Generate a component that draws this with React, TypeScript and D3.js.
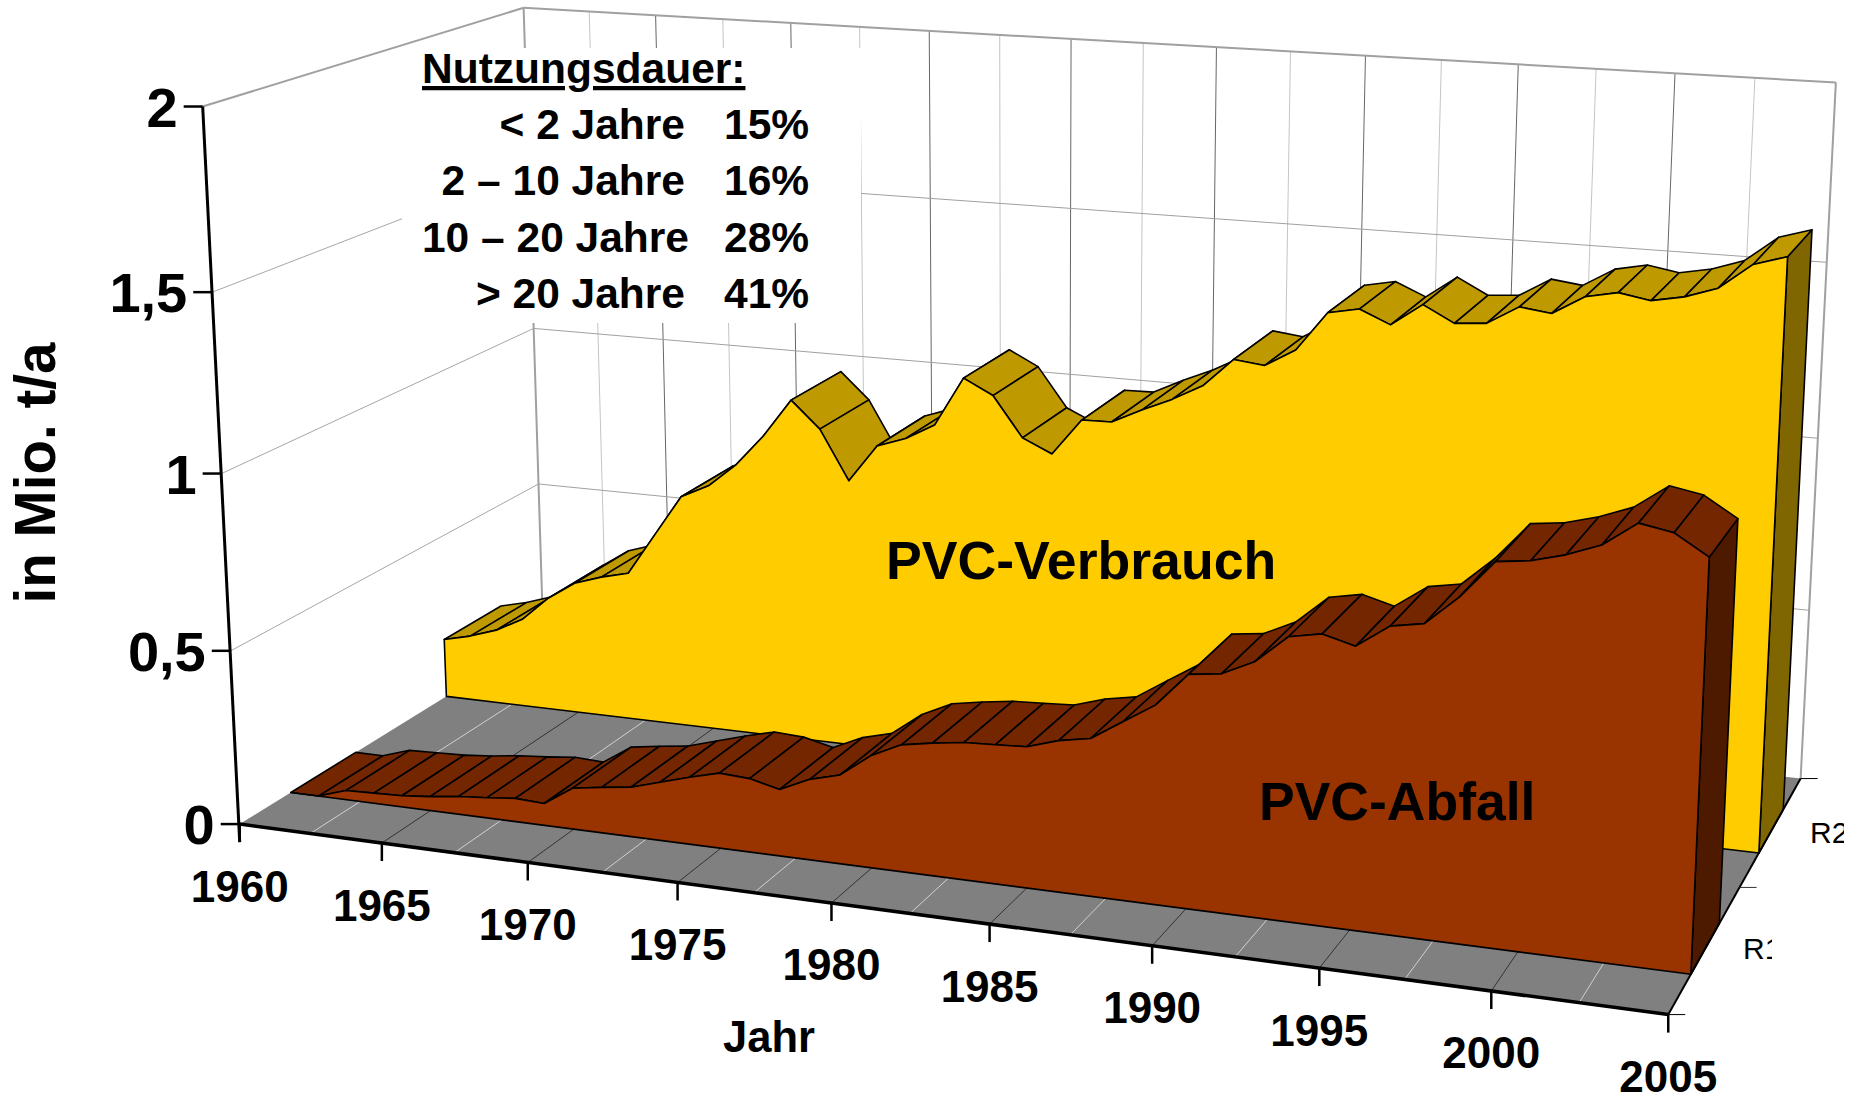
import React, { useEffect, useRef } from "react";
import * as d3 from "d3";

const years = d3.range(1960, 2006);

const verbrauch = [
  0.18, 0.2, 0.228, 0.271, 0.346, 0.401, 0.429, 0.45, 0.575, 0.7, 0.741, 0.812,
  0.906, 1.02, 0.942, 0.797, 0.908, 0.938, 0.985, 1.129, 1.086, 0.971, 0.932, 1.038,
  1.04, 1.082, 1.12, 1.166, 1.248, 1.238, 1.289, 1.4, 1.417, 1.38, 1.443, 1.398,
  1.405, 1.457, 1.446, 1.498, 1.516, 1.501, 1.518, 1.548, 1.618, 1.645,
];

const abfall = [
  0, 0, 0.027, 0.03, 0.033, 0.041, 0.052, 0.059, 0.068, 0.064, 0.119, 0.132,
  0.143, 0.168, 0.193, 0.215, 0.21, 0.19, 0.229, 0.252, 0.316, 0.357, 0.372, 0.384,
  0.388, 0.393, 0.42, 0.436, 0.492, 0.547, 0.64, 0.651, 0.693, 0.769, 0.786, 0.763,
  0.825, 0.841, 0.92, 1.02, 1.031, 1.055, 1.089, 1.153, 1.137, 1.084,
];

const valueTicks = [0, 0.5, 1, 1.5, 2];
const valueLabels = ["0", "0,5", "1", "1,5", "2"];
const yearTicks = d3.range(1960, 2006, 5);
const gridYears = d3.range(1960, 2006, 2.5);

const legendLabels = ["< 2 Jahre", "2 – 10 Jahre", "10 – 20 Jahre", "> 20 Jahre"];
const legendShares = ["15%", "16%", "28%", "41%"];

// perspective camera fitted to the reference: year, depth, value -> screen
const cam = [
  1234.93923, 384.19453, -46.15237, 239.72154,
  72.7663, -93.11549, -722.35146, 824.08083,
  -0.11605, 0.14839, -0.04495,
];

const yearScale = d3.scaleLinear().domain([1960, 2005]).range([0, 1]);
const valueScale = d3.scaleLinear().domain([0, 2]).range([0, 1]);

const project = (year: number, depth: number, value: number): [number, number] => {
  const u = yearScale(year);
  const w = valueScale(value);
  const d = cam[8] * u + cam[9] * depth + cam[10] * w + 1;
  return [
    (cam[0] * u + cam[1] * depth + cam[2] * w + cam[3]) / d,
    (cam[4] * u + cam[5] * depth + cam[6] * w + cam[7]) / d,
  ];
};

const seriesList = [
  { values: verbrauch, front: 0.65, back: 0.85, face: "#FFCC00", top: "#BF9900", side: "#806600" },
  { values: abfall, front: 0.15, back: 0.35, face: "#993300", top: "#732600", side: "#4D1A00" },
];

const App = () => {
  const svgRef = useRef<SVGSVGElement>(null);

  useEffect(() => {
    const svg = d3.select(svgRef.current);
    svg.selectAll("*").remove();
    svg.style("font-family", "'Liberation Sans', Arial, sans-serif");

    const closed = d3.line();
    const poly = (pts: [number, number][]) => closed(pts) + "Z";
    const seg = (a: [number, number], b: [number, number], color: string, width: number) =>
      svg
        .append("line")
        .attr("x1", a[0])
        .attr("y1", a[1])
        .attr("x2", b[0])
        .attr("y2", b[1])
        .attr("stroke", color)
        .attr("stroke-width", width);

    // walls
    gridYears.forEach((y) => {
      const edge = y === 1960 || y === 2005;
      seg(project(y, 1, 0), project(y, 1, 2), edge ? "#a0a0a0" : y % 5 === 0 ? "#666" : "#c4c4c4", edge ? 2 : 1);
    });
    valueTicks.slice(1, -1).forEach((v) => {
      seg(project(1960, 0, v), project(1960, 1, v), "#a6a6a6", 1);
      seg(project(1960, 1, v), project(2005, 1, v), "#a0a0a0", 1);
    });
    seg(project(1960, 0, 2), project(1960, 1, 2), "#a0a0a0", 2);
    seg(project(1960, 1, 2), project(2005, 1, 2), "#a0a0a0", 2);

    // floor
    svg
      .append("path")
      .attr("d", poly([project(1960, 0, 0), project(2005, 0, 0), project(2005, 1, 0), project(1960, 1, 0)]))
      .attr("fill", "#808080");
    gridYears.slice(1, -1).forEach((y) => {
      seg(project(y, 0, 0), project(y, 1, 0), y % 5 === 0 ? "#333" : "#d0d0d0", 1);
    });

    // legend block, it hides the grid behind it
    svg.append("rect").attr("x", 402).attr("y", 48).attr("width", 459).attr("height", 275).attr("fill", "#fff");
    svg
      .append("text")
      .attr("x", 422)
      .attr("y", 83)
      .attr("font-size", 42.5)
      .attr("font-weight", "bold")
      .attr("text-decoration", "underline")
      .text("Nutzungsdauer:");
    legendLabels.forEach((label, i) => {
      const y = 138.5 + i * 56.5;
      svg
        .append("text")
        .attr("x", i === 2 ? 689 : 685)
        .attr("y", y)
        .attr("text-anchor", "end")
        .attr("font-size", 42.5)
        .attr("font-weight", "bold")
        .text(label);
      svg
        .append("text")
        .attr("x", 724)
        .attr("y", y)
        .attr("font-size", 42.5)
        .attr("font-weight", "bold")
        .text(legendShares[i]);
    });

    // areas, back series first, top facets from far to near
    seriesList.forEach((s) => {
      const last = years.length - 1;
      const g = svg
        .append("g")
        .attr("stroke", "#000")
        .attr("stroke-width", 1.6)
        .attr("stroke-linejoin", "round");

      g.append("path")
        .attr(
          "d",
          poly([
            project(years[last], s.front, s.values[last]),
            project(years[last], s.back, s.values[last]),
            project(years[last], s.back, 0),
            project(years[last], s.front, 0),
          ])
        )
        .attr("fill", s.side);

      g.selectAll("path.top")
        .data(d3.pairs(d3.range(years.length)))
        .join("path")
        .attr("class", "top")
        .attr("fill", s.top)
        .attr("d", ([a, b]) =>
          poly([
            project(years[a], s.front, s.values[a]),
            project(years[b], s.front, s.values[b]),
            project(years[b], s.back, s.values[b]),
            project(years[a], s.back, s.values[a]),
          ])
        );

      g.append("path")
        .attr(
          "d",
          poly([
            ...years.map((y, i) => project(y, s.front, s.values[i])),
            project(years[last], s.front, 0),
            project(years[0], s.front, 0),
          ])
        )
        .attr("fill", s.face);
    });

    // series labels
    svg
      .append("text")
      .attr("x", 886)
      .attr("y", 579)
      .attr("font-size", 53.6)
      .attr("font-weight", "bold")
      .text("PVC-Verbrauch");
    svg
      .append("text")
      .attr("x", 1259)
      .attr("y", 820)
      .attr("font-size", 53.5)
      .attr("font-weight", "bold")
      .text("PVC-Abfall");

    // value axis
    seg(project(1960, 0, 2), [project(1960, 0, 0)[0], project(1960, 0, 0)[1] + 18], "#000", 3);
    valueTicks.forEach((v, i) => {
      const [x, y] = project(1960, 0, v);
      seg([x - 19, y], [x, y], "#000", 2.5);
      svg
        .append("text")
        .attr("x", x - 25)
        .attr("y", y + 20)
        .attr("text-anchor", "end")
        .attr("font-size", 56)
        .attr("font-weight", "bold")
        .text(valueLabels[i]);
    });

    // year axis
    seg(project(1960, 0, 0), project(2005, 0, 0), "#000", 3.5);
    yearTicks.forEach((yr) => {
      const [x, y] = project(yr, 0, 0);
      seg([x, y], [x, y + 18], "#000", 2.5);
      svg
        .append("text")
        .attr("x", x)
        .attr("y", y + 77.5)
        .attr("text-anchor", "middle")
        .attr("font-size", 44)
        .attr("font-weight", "bold")
        .text(String(yr));
    });

    // depth axis
    seg(project(2005, 0, 0), project(2005, 1, 0), "#000", 2);
    [0, 0.5, 1].forEach((d) => {
      const [x, y] = project(2005, d, 0);
      seg([x, y], [x + 17, y], d === 0.5 ? "#333" : "#000", 1);
    });

    const defs = svg.append("defs");
    defs.append("clipPath").attr("id", "clip-r1").append("rect").attr("x", 1700).attr("y", 900).attr("width", 72).attr("height", 100);
    defs.append("clipPath").attr("id", "clip-r2").append("rect").attr("x", 1780).attr("y", 790).attr("width", 64).attr("height", 80);
    svg
      .append("text")
      .attr("x", 1743)
      .attr("y", 959)
      .attr("font-size", 30)
      .attr("clip-path", "url(#clip-r1)")
      .text("R1");
    svg
      .append("text")
      .attr("x", 1810)
      .attr("y", 843)
      .attr("font-size", 30)
      .attr("clip-path", "url(#clip-r2)")
      .text("R2");

    // axis titles
    svg
      .append("text")
      .attr("x", 769)
      .attr("y", 1052)
      .attr("text-anchor", "middle")
      .attr("font-size", 43.5)
      .attr("font-weight", "bold")
      .text("Jahr");
    svg
      .append("text")
      .attr("transform", "translate(55,473) rotate(-90)")
      .attr("text-anchor", "middle")
      .attr("font-size", 56.6)
      .attr("font-weight", "bold")
      .text("in Mio. t/a");
  }, []);

  return <svg ref={svgRef} width={1856} height={1095} style={{ position: "absolute", left: 0, top: 0 }} />;
};

export default App;
